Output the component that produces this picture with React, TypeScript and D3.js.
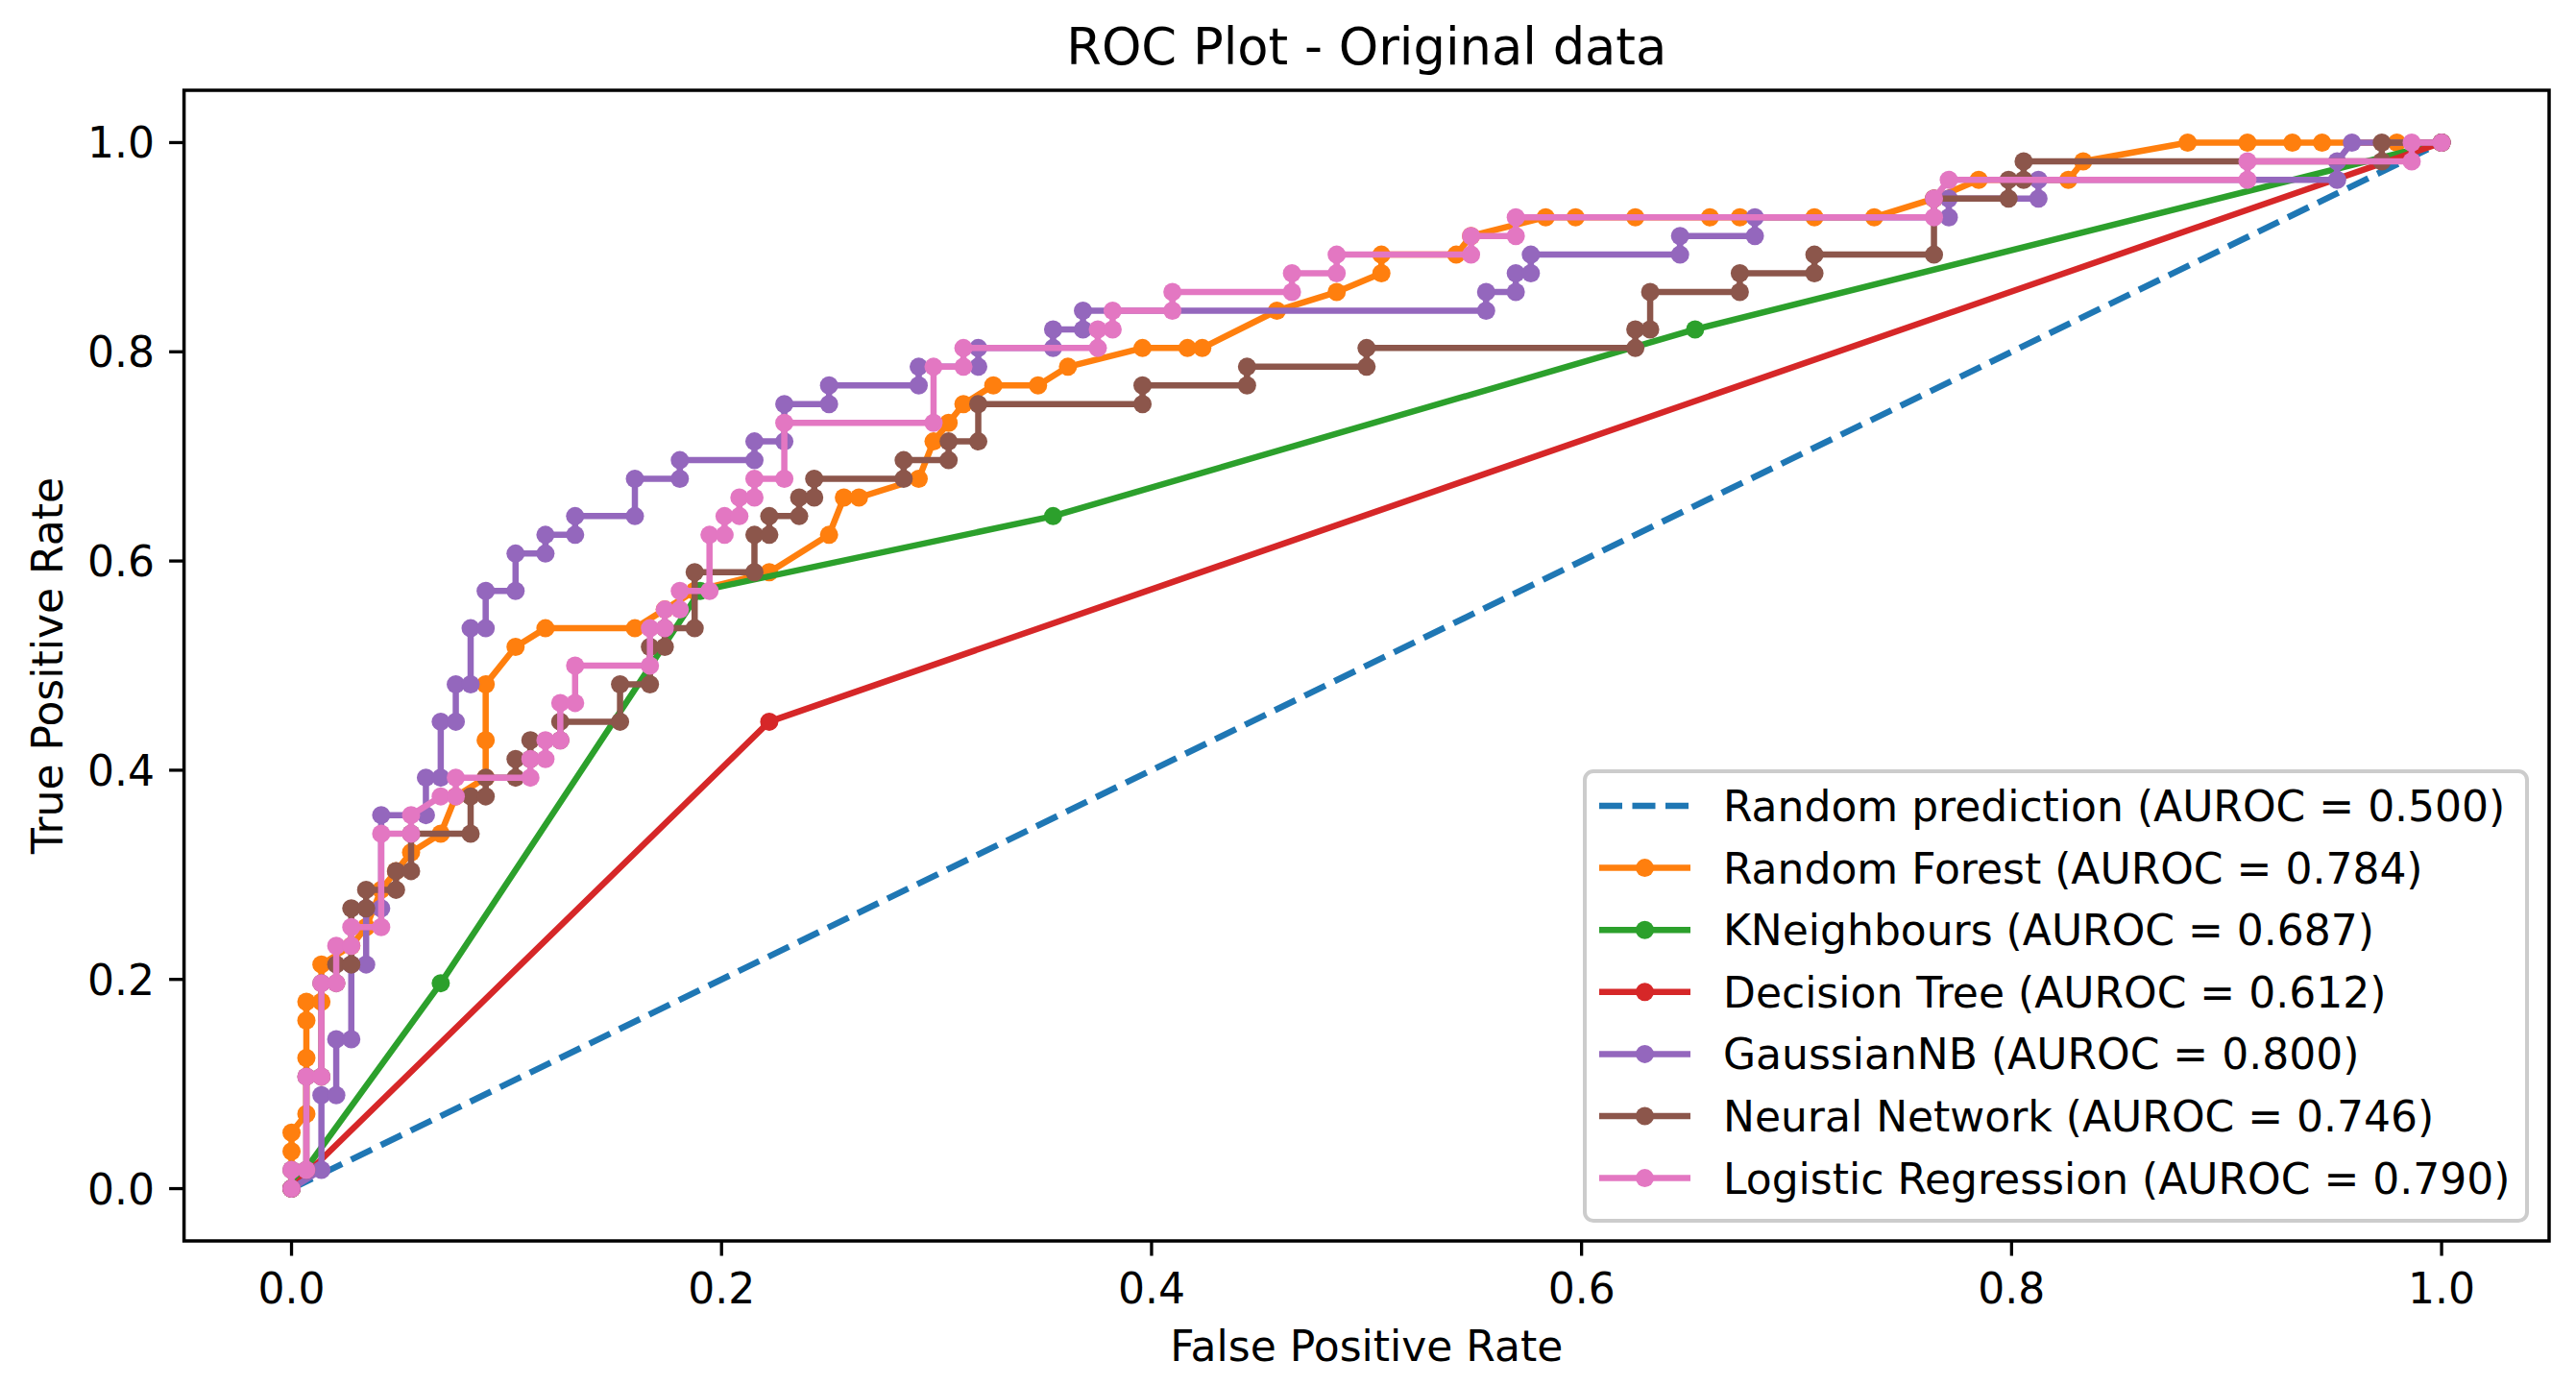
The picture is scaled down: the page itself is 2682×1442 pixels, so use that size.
import * as d3 from 'd3';

type Pt = [number, number];

// ROC points (fpr, tpr)
const randomPrediction: Pt[] = [[0, 0], [1, 1]];

const randomForest: Pt[] = [
  [0, 0], [0, 0.0357], [0, 0.0536], [0.0069, 0.0714], [0.0069, 0.125], [0.0069, 0.1607],
  [0.0069, 0.1786], [0.0139, 0.1786], [0.0139, 0.2143], [0.0278, 0.2321], [0.0347, 0.25],
  [0.0417, 0.2857], [0.0486, 0.3036], [0.0556, 0.3214], [0.0694, 0.3393], [0.0764, 0.375],
  [0.0903, 0.3929], [0.0903, 0.4286], [0.0903, 0.4821], [0.1042, 0.5179], [0.1181, 0.5357],
  [0.1597, 0.5357], [0.1736, 0.5536], [0.1875, 0.5714], [0.2222, 0.5893], [0.25, 0.625],
  [0.2569, 0.6607], [0.2639, 0.6607], [0.2917, 0.6786], [0.2986, 0.7143], [0.3056, 0.7321],
  [0.3125, 0.75], [0.3264, 0.7679], [0.3472, 0.7679], [0.3611, 0.7857], [0.3958, 0.8036],
  [0.4167, 0.8036], [0.4236, 0.8036], [0.4583, 0.8393], [0.4861, 0.8571], [0.5069, 0.875],
  [0.5069, 0.8929], [0.5417, 0.8929], [0.5486, 0.9107], [0.5833, 0.9286], [0.5972, 0.9286],
  [0.625, 0.9286], [0.6597, 0.9286], [0.6736, 0.9286], [0.7083, 0.9286], [0.7361, 0.9286],
  [0.7639, 0.9464], [0.7847, 0.9643], [0.8264, 0.9643], [0.8333, 0.9821], [0.8819, 1],
  [0.9097, 1], [0.9306, 1], [0.9444, 1], [0.9792, 1], [1, 1],
];

const kNeighbours: Pt[] = [
  [0, 0], [0.0694, 0.1964], [0.19, 0.5714], [0.3542, 0.6429], [0.6528, 0.8214], [1, 1],
];

const decisionTree: Pt[] = [[0, 0], [0.2222, 0.4464], [1, 1]];

const gaussianNB: Pt[] = [
  [0, 0], [0.0139, 0.0179], [0.0139, 0.0893], [0.0208, 0.0893], [0.0208, 0.1429], [0.0278, 0.1429],
  [0.0278, 0.2143], [0.0347, 0.2143], [0.0347, 0.2679], [0.0417, 0.2679], [0.0417, 0.3571],
  [0.0625, 0.3571], [0.0625, 0.3929], [0.0694, 0.3929], [0.0694, 0.4464], [0.0764, 0.4464],
  [0.0764, 0.4821], [0.0833, 0.4821], [0.0833, 0.5357], [0.0903, 0.5357], [0.0903, 0.5714],
  [0.1042, 0.5714], [0.1042, 0.6071], [0.1181, 0.6071], [0.1181, 0.625], [0.1319, 0.625],
  [0.1319, 0.6429], [0.1597, 0.6429], [0.1597, 0.6786], [0.1806, 0.6786], [0.1806, 0.6964],
  [0.2153, 0.6964], [0.2153, 0.7143], [0.2292, 0.7143], [0.2292, 0.75], [0.25, 0.75],
  [0.25, 0.7679], [0.2917, 0.7679], [0.2917, 0.7857], [0.3194, 0.7857], [0.3194, 0.8036],
  [0.3542, 0.8036], [0.3542, 0.8214], [0.3681, 0.8214], [0.3681, 0.8393], [0.5556, 0.8393],
  [0.5556, 0.8571], [0.5694, 0.8571], [0.5694, 0.875], [0.5764, 0.875], [0.5764, 0.8929],
  [0.6458, 0.8929], [0.6458, 0.9107], [0.6806, 0.9107], [0.6806, 0.9286], [0.7708, 0.9286],
  [0.7708, 0.9464], [0.8125, 0.9464], [0.8125, 0.9643], [0.9514, 0.9643], [0.9514, 0.9821],
  [0.9583, 1], [1, 1],
];

const neuralNetwork: Pt[] = [
  [0, 0], [0, 0.0179], [0.0069, 0.0179], [0.0069, 0.1071], [0.0139, 0.1071], [0.0139, 0.1964],
  [0.0208, 0.1964], [0.0208, 0.2143], [0.0278, 0.2143], [0.0278, 0.2679], [0.0347, 0.2679],
  [0.0347, 0.2857], [0.0486, 0.2857], [0.0486, 0.3036], [0.0556, 0.3036], [0.0556, 0.3393],
  [0.0833, 0.3393], [0.0833, 0.375], [0.0903, 0.375], [0.0903, 0.3929], [0.1042, 0.3929],
  [0.1042, 0.4107], [0.1111, 0.4107], [0.1111, 0.4286], [0.125, 0.4286], [0.125, 0.4464],
  [0.1528, 0.4464], [0.1528, 0.4821], [0.1667, 0.4821], [0.1667, 0.5179], [0.1736, 0.5179],
  [0.1736, 0.5357], [0.1875, 0.5357], [0.1875, 0.5893], [0.2153, 0.5893], [0.2153, 0.625],
  [0.2222, 0.625], [0.2222, 0.6429], [0.2361, 0.6429], [0.2361, 0.6607], [0.2431, 0.6607],
  [0.2431, 0.6786], [0.2847, 0.6786], [0.2847, 0.6964], [0.3056, 0.6964], [0.3056, 0.7143],
  [0.3194, 0.7143], [0.3194, 0.75], [0.3958, 0.75], [0.3958, 0.7679], [0.4444, 0.7679],
  [0.4444, 0.7857], [0.5, 0.7857], [0.5, 0.8036], [0.625, 0.8036], [0.625, 0.8214],
  [0.6319, 0.8214], [0.6319, 0.8571], [0.6736, 0.8571], [0.6736, 0.875], [0.7083, 0.875],
  [0.7083, 0.8929], [0.7639, 0.8929], [0.7639, 0.9464], [0.7986, 0.9464], [0.7986, 0.9643],
  [0.8056, 0.9643], [0.8056, 0.9821], [0.9722, 0.9821], [0.9722, 1], [1, 1],
];

const logisticRegression: Pt[] = [
  [0, 0], [0, 0.0179], [0.0069, 0.0179], [0.0069, 0.1071], [0.0139, 0.1071], [0.0139, 0.1964],
  [0.0208, 0.1964], [0.0208, 0.2321], [0.0278, 0.2321], [0.0278, 0.25], [0.0417, 0.25],
  [0.0417, 0.3393], [0.0556, 0.3393], [0.0556, 0.3571], [0.0694, 0.375], [0.0764, 0.375],
  [0.0764, 0.3929], [0.1111, 0.3929], [0.1111, 0.4107], [0.1181, 0.4107], [0.1181, 0.4286],
  [0.125, 0.4286], [0.125, 0.4643], [0.1319, 0.4643], [0.1319, 0.5], [0.1667, 0.5],
  [0.1667, 0.5357], [0.1736, 0.5357], [0.1736, 0.5536], [0.1806, 0.5536], [0.1806, 0.5714],
  [0.1944, 0.5714], [0.1944, 0.625], [0.2014, 0.625], [0.2014, 0.6429], [0.2083, 0.6429],
  [0.2083, 0.6607], [0.2153, 0.6607], [0.2153, 0.6786], [0.2292, 0.6786], [0.2292, 0.7321],
  [0.2986, 0.7321], [0.2986, 0.7857], [0.3125, 0.7857], [0.3125, 0.8036], [0.375, 0.8036],
  [0.375, 0.8214], [0.3819, 0.8214], [0.3819, 0.8393], [0.4097, 0.8393], [0.4097, 0.8571],
  [0.4653, 0.8571], [0.4653, 0.875], [0.4861, 0.875], [0.4861, 0.8929], [0.5486, 0.8929],
  [0.5486, 0.9107], [0.5694, 0.9107], [0.5694, 0.9286], [0.7639, 0.9286], [0.7639, 0.9464],
  [0.7708, 0.9643], [0.9097, 0.9643], [0.9097, 0.9821], [0.9861, 0.9821], [0.9861, 1], [1, 1],
];

const seriesNames = [
  'Random prediction', 'Random Forest', 'KNeighbours', 'Decision Tree',
  'GaussianNB', 'Neural Network', 'Logistic Regression',
];
const aurocValues = ['0.500', '0.784', '0.687', '0.612', '0.800', '0.746', '0.790'];
const seriesColors = ['#1f77b4', '#ff7f0e', '#2ca02c', '#d62728', '#9467bd', '#8c564b', '#e377c2'];
const seriesData = [
  randomPrediction, randomForest, kNeighbours, decisionTree,
  gaussianNB, neuralNetwork, logisticRegression,
];

const xTicks = [0, 0.2, 0.4, 0.6, 0.8, 1.0];
const yTicks = [0, 0.2, 0.4, 0.6, 0.8, 1.0];

const W = 2682;
const H = 1442;
const FONT = '"DejaVu Sans", sans-serif';

export default function App() {
  const left = 191.6, right = 2654, top = 94, bottom = 1292;
  const x = d3.scaleLinear().domain([-0.05, 1.05]).range([left, right]);
  const y = d3.scaleLinear().domain([-0.05, 1.05]).range([bottom, top]);
  const line = d3.line<Pt>().x(d => x(d[0])).y(d => y(d[1]));

  const lw = 6.5;
  const r = 9.5;
  const dash = '24,10.5';
  const fs = 44;

  // legend geometry
  const lgX = 1650, lgY = 803, lgW = 981, lgH = 468;
  const rowY0 = 839, rowStep = 64.6;
  const hx0 = 1665, hx1 = 1760, tx = 1794;

  return (
    <svg width={W} height={H} viewBox={`0 0 ${W} ${H}`}
      style={{ position: 'absolute', left: 0, top: 0, background: '#fff' }}
      fontFamily={FONT}>
      <rect x={0} y={0} width={W} height={H} fill="#fff" />

      {/* curves */}
      {seriesData.map((data, i) => (
        <g key={seriesNames[i]}>
          <path d={line(data) ?? ''} fill="none" stroke={seriesColors[i]} strokeWidth={lw}
            strokeDasharray={i === 0 ? dash : undefined} strokeLinejoin="round" />
          {i > 0 && data.map((d, j) => (
            <circle key={j} cx={x(d[0])} cy={y(d[1])} r={r} fill={seriesColors[i]} />
          ))}
        </g>
      ))}

      {/* frame */}
      <rect x={left} y={top} width={right - left} height={bottom - top}
        fill="none" stroke="#000" strokeWidth={3.5} />

      {/* x ticks */}
      {xTicks.map(t => (
        <g key={`x${t}`}>
          <line x1={x(t)} x2={x(t)} y1={bottom} y2={bottom + 15.5} stroke="#000" strokeWidth={3.3} />
          <text x={x(t)} y={1357} textAnchor="middle" fontSize={fs} fill="#000">{t.toFixed(1)}</text>
        </g>
      ))}
      {/* y ticks */}
      {yTicks.map(t => (
        <g key={`y${t}`}>
          <line x1={left - 15.5} x2={left} y1={y(t)} y2={y(t)} stroke="#000" strokeWidth={3.3} />
          <text x={161} y={y(t) + 16} textAnchor="end" fontSize={fs} fill="#000">{t.toFixed(1)}</text>
        </g>
      ))}

      {/* labels */}
      <text x={(left + right) / 2} y={67} textAnchor="middle" fontSize={52.7} fill="#000">ROC Plot - Original data</text>
      <text x={(left + right) / 2} y={1417} textAnchor="middle" fontSize={fs} fill="#000">False Positive Rate</text>
      <text transform={`translate(65,${(top + bottom) / 2}) rotate(-90)`} textAnchor="middle" fontSize={fs} fill="#000">True Positive Rate</text>

      {/* legend */}
      <rect x={lgX} y={lgY} width={lgW} height={lgH} rx={9} ry={9}
        fill="#fff" fillOpacity={0.8} stroke="#cccccc" strokeWidth={4} />
      {seriesNames.map((name, i) => {
        const cy = rowY0 + i * rowStep;
        return (
          <g key={`lg${name}`}>
            <line x1={hx0} x2={hx1} y1={cy} y2={cy} stroke={seriesColors[i]} strokeWidth={lw}
              strokeDasharray={i === 0 ? dash : undefined} />
            {i > 0 && <circle cx={(hx0 + hx1) / 2} cy={cy} r={r} fill={seriesColors[i]} />}
            <text x={tx} y={cy + 16} fontSize={fs} fill="#000">{`${name} (AUROC = ${aurocValues[i]})`}</text>
          </g>
        );
      })}
    </svg>
  );
}
